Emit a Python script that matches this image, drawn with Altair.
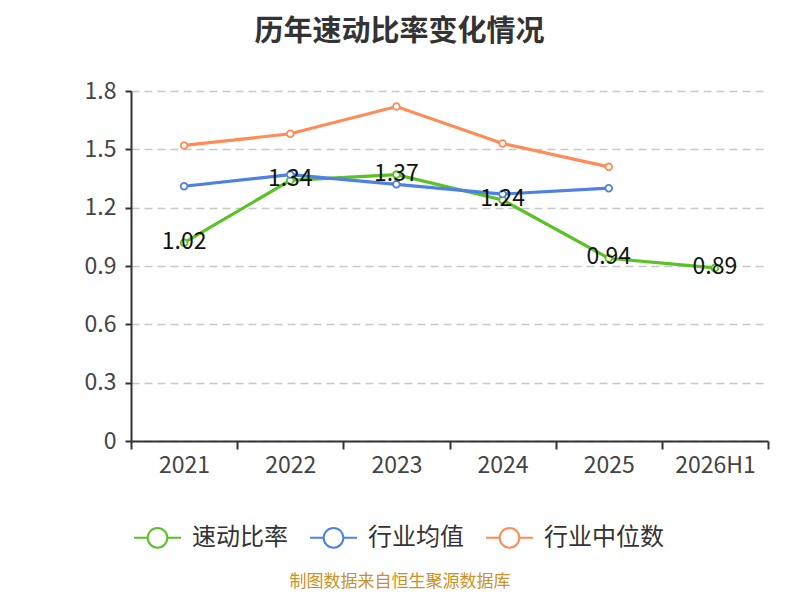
import altair as alt
import pandas as pd

years = ["2021", "2022", "2023", "2024", "2025", "2026H1"]
quick_ratio = [1.02, 1.34, 1.37, 1.24, 0.94, 0.89]
industry_avg = [1.31, 1.37, 1.32, 1.27, 1.30, None]
industry_median = [1.52, 1.58, 1.72, 1.53, 1.41, None]

series_names = ["速动比率", "行业均值", "行业中位数"]
colors = ["#5AC223", "#4E80E6", "#FF8B57"]
footer_text = "制图数据来自恒生聚源数据库"

rows = []
for name, vals in zip(series_names, [quick_ratio, industry_avg, industry_median]):
    for y, v in zip(years, vals):
        if v is not None:
            rows.append({"year": y, "value": v, "series": name})
df = pd.DataFrame(rows)

FONT = "Noto Sans CJK SC"
sym = "M-1,0H-0.42M0.42,0H1M0.42,0A0.42,0.42,0,1,1,-0.42,0A0.42,0.42,0,1,1,0.42,0Z"

x_enc = alt.X("year:N", sort=years, title=None,
              scale=alt.Scale(domain=years, paddingInner=0, paddingOuter=0),
              axis=alt.Axis(labelAngle=0, labelFontSize=23, labelColor="#444",
                            labelFont=FONT, labelPadding=5,
                            domainColor="#333", domainWidth=2,
                            tickColor="#333", tickWidth=2, tickSize=8,
                            tickBand="extent", grid=False))
y_enc = alt.Y("value:Q", title=None,
              scale=alt.Scale(domain=[0, 1.8], nice=False),
              axis=alt.Axis(values=[0, 0.3, 0.6, 0.9, 1.2, 1.5, 1.8],
                            labelExpr="datum.value == 0 ? '0' : format(datum.value, '.1f')",
                            labelFontSize=23, labelColor="#444", labelFont=FONT,
                            labelPadding=9,
                            domainColor="#333", domainWidth=2,
                            tickColor="#333", tickWidth=2, tickSize=6,
                            grid=True, gridColor="#c8c8c8", gridDash=[8, 5],
                            gridWidth=1.5))
color_enc = alt.Color("series:N",
                      scale=alt.Scale(domain=series_names, range=colors),
                      legend=alt.Legend(title=None, orient="none", direction="horizontal",
                                        legendX=2, legendY=422,
                                        symbolType=sym, symbolSize=2200,
                                        symbolStrokeWidth=2, symbolFillColor="white",
                                        labelFontSize=24, labelColor="#333", labelFont=FONT,
                                        labelOffset=10, columnPadding=18))

base = alt.Chart(df).encode(x=x_enc, y=y_enc, color=color_enc)

lines = base.mark_line(strokeWidth=3.2)
points = base.mark_point(size=45, strokeWidth=1.8, fill="white", filled=False, opacity=1)
labels = alt.Chart(df[df["series"] == "速动比率"]).mark_text(
    fontSize=23, font=FONT, color="#111", baseline="middle", align="center", dy=-1
).encode(x=alt.X("year:N", sort=years), y="value:Q",
         text=alt.Text("value:Q", format=".2f"))

footer = alt.Chart(pd.DataFrame({"t": [footer_text]})).mark_text(
    fontSize=17, font=FONT, color="#C8922A", align="center", baseline="middle"
).encode(text="t:N", x=alt.value(269), y=alt.value(491))

chart = alt.layer(lines, points, labels, footer).properties(
    width=637, height=350,
    title=alt.TitleParams("历年速动比率变化情况", fontSize=29, font=FONT, fontWeight="bold",
                          color="#333", anchor="middle", dx=-50, offset=33),
    autosize=alt.AutoSizeParams(type="none"),
    padding={"left": 123, "top": 83, "right": 16, "bottom": 151},
).configure_view(stroke=None)

chart.save("out.html", embed_options={"renderer": "svg", "actions": False})
